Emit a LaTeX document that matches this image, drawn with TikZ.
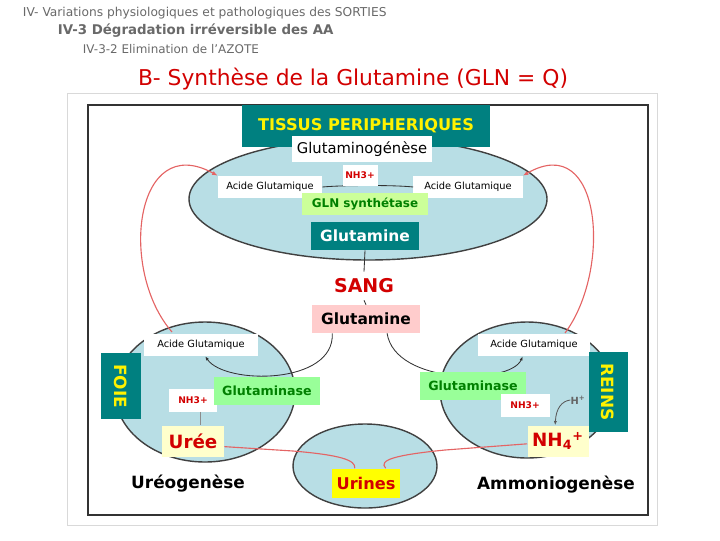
\documentclass[tikz,border=0pt]{standalone}
\usepackage{fontspec}
\setmainfont{DejaVu Sans}
\usepackage{tikz}
\usetikzlibrary{arrows.meta,positioning,calc,shapes.geometric}
\definecolor{tealbg}{RGB}{0,128,128}
\definecolor{cellblue}{RGB}{184,222,229}
\definecolor{softgreen}{RGB}{153,255,153}
\definecolor{limegreen}{RGB}{204,255,153}
\definecolor{softpink}{RGB}{255,204,204}
\definecolor{cream}{RGB}{255,255,204}
\definecolor{brightyellow}{RGB}{255,255,0}
\definecolor{darkred}{RGB}{210,0,0}
\definecolor{leafgreen}{RGB}{0,128,0}
\definecolor{arcred}{RGB}{228,100,100}
\definecolor{headgray}{RGB}{105,105,105}

\begin{document}
\begin{tikzpicture}[x=0.025cm, y=-0.025cm, >=Latex,
  cell/.style={draw=black!75, line width=1pt, fill=cellblue},
  whitebox/.style={fill=white, inner sep=1pt},
  acide/.style={whitebox, minimum height=0.55cm, font=\fontsize{7}{8}\selectfont},
  ammo/.style={whitebox, text=darkred, minimum height=0.575cm, font=\fontsize{6.5}{8}\selectfont\bfseries},
  enzyme/.style={fill=softgreen, text=leafgreen, minimum width=2.65cm, minimum height=0.7cm, inner sep=1pt, font=\fontsize{9}{11}\selectfont\bfseries},
  organ/.style={fill=tealbg, text=yellow, rotate=-90, minimum height=0.975cm, inner sep=1pt, font=\fontsize{12}{14}\selectfont\bfseries},
  product/.style={fill=cream, text=darkred, minimum height=0.775cm, inner sep=1pt, font=\fontsize{13}{15}\selectfont\bfseries},
  glubox/.style={minimum width=2.675cm, minimum height=0.7cm, inner sep=1pt, font=\fontsize{11}{13}\selectfont\bfseries},
  process/.style={font=\fontsize{12}{14}\selectfont\bfseries},
  flow/.style={draw=black!80, line width=0.6pt},
  bloodline/.style={draw=arcred, line width=0.8pt}]
  \useasboundingbox (0,0) rectangle (720,540);

  % headings
  \node[anchor=west, text=headgray, font=\fontsize{8.7}{10}\selectfont] (head1) at (18,13)
    {IV- Variations physiologiques et pathologiques des SORTIES};
  \node[anchor=west, text=headgray, font=\fontsize{9.5}{11}\selectfont\bfseries] (head2) at (53,31)
    {IV-3 Dégradation irréversible des AA};
  \node[anchor=west, text=headgray, font=\fontsize{8.5}{10}\selectfont] (head3) at (78,49)
    {IV-3-2 Elimination de l'AZOTE};
  \node[text=darkred, font=\fontsize{15.5}{18}\selectfont] (title) at (353,79)
    {B- Synthèse de la Glutamine (GLN = Q)};

  % frame
  \draw[black!15] (67,93) rectangle (657,525);
  \draw[black!80, line width=1pt] (88,105) rectangle (648,515);

  % compartments
  \draw[cell] (368,199) ellipse [x radius=179, y radius=61];
  \draw[cell] (205,392) ellipse [x radius=90, y radius=70];
  \draw[cell] (527,390) ellipse [x radius=87, y radius=68];
  \draw[cell] (365,466) ellipse [x radius=72, y radius=42];

  % tissus peripheriques
  \node[fill=tealbg, text=yellow, minimum width=6.2cm, minimum height=1.05cm, inner sep=1pt,
    font=\fontsize{11.5}{13}\selectfont\bfseries] (tissus) at (366,126) {TISSUS PERIPHERIQUES};
  \node[whitebox, minimum width=3.5cm, minimum height=0.65cm, font=\fontsize{10.5}{12}\selectfont]
    (glutgen) at (362,149) {Glutaminogénèse};
  \node[acide, minimum width=2.6cm] (acideTL) at (270,187) {Acide Glutamique};
  \node[acide, minimum width=2.725cm] (acideTR) at (468,187) {Acide Glutamique};
  \draw[flow] (acideTL.east) .. controls (345,185) and (395,185) .. (acideTR.west);
  \node[ammo, minimum width=0.875cm, minimum height=0.525cm] (nh3T) at (360,175) {NH3+};
  \node[fill=limegreen, text=leafgreen, minimum width=3.125cm, minimum height=0.55cm, inner sep=1pt,
    font=\fontsize{8.5}{10}\selectfont\bfseries] (glnsyn) at (365,204) {GLN synthétase};
  \node[glubox, fill=tealbg, text=white] (glutT) at (365,236) {Glutamine};

  % sang
  \node[whitebox, text=darkred, minimum width=1.7cm, minimum height=0.7cm,
    font=\fontsize{13.5}{15}\selectfont\bfseries] (sang) at (364,286) {SANG};
  \node[glubox, fill=softpink] (glutS) at (366,319) {Glutamine};
  \draw[flow] (glutT.south) -- (sang.north);
  \draw[flow] (sang.south) -- (glutS.north);

  % retour de l'acide glutamique vers les tissus
  \coordinate (liverTop) at (172,332);
  \coordinate (kidneyTop) at (565,333);
  \draw[bloodline, -{Latex[length=4pt]}] (liverTop) .. controls (118,270) and (135,130) .. (acideTL.north west);
  \draw[bloodline, -{Latex[length=4pt]}] (kidneyTop) .. controls (612,270) and (602,130) .. (acideTR.north east);

  % foie
  \node[acide, minimum width=2.825cm] (acideFL) at (201,345) {Acide Glutamique};
  \node[organ, minimum width=1.65cm] (foie) at (121,386) {FOIE};
  \draw[flow, -{Latex[length=3pt]}] ([xshift=-24pt]glutS.south) .. controls (335,385) and (225,385) .. ([xshift=3pt]acideFL.south);
  \node[ammo, minimum width=1.2cm] (nh3L) at (193,400) {NH3+};
  \node[enzyme] (glutaseL) at (267,391) {Glutaminase};
  \node[product, minimum width=1.55cm] (urea) at (193,441) {Urée};
  \draw[black!45, line width=0.6pt] ([xshift=5pt]nh3L.south) -- ([xshift=5pt]nh3L.south |- urea.north);
  \node[process] (ureogen) at (188,484) {Uréogenèse};

  % reins
  \node[acide, minimum width=2.8cm] (acideKR) at (534,345) {Acide Glutamique};
  \node[organ, minimum width=1.975cm] (reins) at (608,392) {REINS};
  \draw[flow, -{Latex[length=3pt]}] ([xshift=15pt]glutS.south) .. controls (395,385) and (510,385) .. ([xshift=-8pt]acideKR.south);
  \node[enzyme, minimum width=2.625cm] (glutaseR) at (473,386) {Glutaminase};
  \node[ammo, minimum width=1.225cm] (nh3R) at (525,405) {NH3+};
  \node[text=black!60, inner sep=0pt, font=\fontsize{7}{8}\selectfont\bfseries] (hplus) at (578,400) {H\textsuperscript{+}};
  \node[product, minimum width=1.525cm] (nh4) at (558,441) {NH\textsubscript{4}\textsuperscript{+}};
  \draw[black!65, line width=0.6pt, -{Latex[length=3pt]}] (hplus.west) .. controls (562,401) and (556,408) .. ([xshift=-2pt]nh4.north);
  \node[process] (ammonio) at (556,485) {Ammoniogenèse};

  % urines
  \node[fill=brightyellow, text=darkred, minimum width=1.7cm, minimum height=0.725cm, inner sep=1pt,
    font=\fontsize{11.5}{13}\selectfont\bfseries] (urines) at (366,483) {Urines};
  \draw[bloodline] ([yshift=-4pt]urea.east) -- (293,451) .. controls (340,455) and (356,460) .. ([xshift=-8pt]urines.north);
  \draw[bloodline] ([yshift=-2pt]nh4.west) -- (445,450) .. controls (395,455) and (378,460) .. ([xshift=14pt]urines.north);
\end{tikzpicture}
\end{document}
